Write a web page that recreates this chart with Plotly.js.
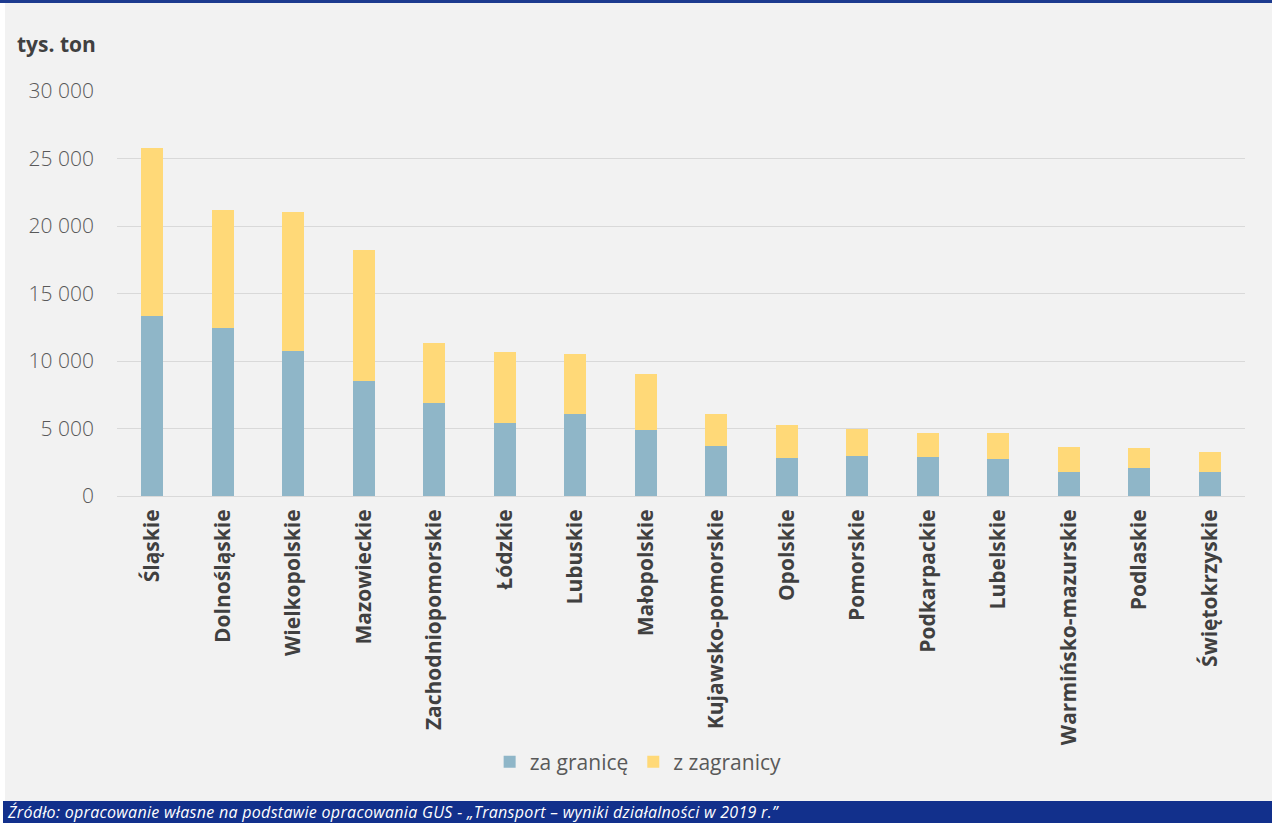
<!DOCTYPE html>
<html>
<head>
<meta charset="utf-8">
<script src="https://cdn.plot.ly/plotly-3.0.1.min.js"></script>
<style>
  html, body { margin: 0; padding: 0; background: #ffffff; }
  #wrap { position: relative; width: 1272px; height: 823px; overflow: hidden; background: #ffffff; }
  #topline { position: absolute; left: 0; top: 0; width: 1272px; height: 3px; background: #1d3b8f; }
  #panel { position: absolute; left: 5px; top: 3px; width: 1267px; height: 798px; background: #f2f2f2; }
  #chart { position: absolute; left: 0; top: 0; width: 1272px; height: 823px; }
  #footer { position: absolute; left: 3px; top: 801px; width: 1264px; height: 22px; background: #12308c;
            color: #ffffff; font-family: "Open Sans", sans-serif; font-style: italic; font-size: 16px;
            line-height: 22px; padding-left: 5px; white-space: nowrap; overflow: hidden; letter-spacing: 0.3px; }
</style>
</head>
<body>
<div id="wrap">
  <div id="topline"></div>
  <div id="panel"></div>
  <div id="chart"></div>
  <div id="footer">Źródło: opracowanie własne na podstawie opracowania GUS - „Transport – wyniki działalności w 2019 r.”</div>
</div>
<script>
const categories = ["Śląskie", "Dolnośląskie", "Wielkopolskie", "Mazowieckie", "Zachodniopomorskie", "Łódzkie",
  "Lubuskie", "Małopolskie", "Kujawsko-pomorskie", "Opolskie", "Pomorskie", "Podkarpackie", "Lubelskie",
  "Warmińsko-mazurskie", "Podlaskie", "Świętokrzyskie"];
const zaGranice = [13350, 12450, 10750, 8500, 6900, 5400, 6050, 4900, 3700, 2800, 3000, 2900, 2750, 1800, 2100, 1800];
const zZagranicy = [12450, 8750, 10300, 9750, 4450, 5300, 4500, 4150, 2350, 2450, 1950, 1800, 1900, 1850, 1450, 1450];
const seriesNames = ["za granicę", "z zagranicy"];
const yTicks = [0, 5000, 10000, 15000, 20000, 25000, 30000];

const traces = [
  { type: "bar", name: seriesNames[0], x: categories, y: zaGranice, marker: { color: "#8fb6c8" }, hoverinfo: "x+y+name" },
  { type: "bar", name: seriesNames[1], x: categories, y: zZagranicy, marker: { color: "#ffd978" }, hoverinfo: "x+y+name" }
];

const layout = {
  width: 1272, height: 823,
  paper_bgcolor: "rgba(0,0,0,0)", plot_bgcolor: "rgba(0,0,0,0)",
  margin: { l: 117, r: 27, t: 91, b: 327 },
  barmode: "stack", bargap: 0.69,
  separators: ", ",
  font: { family: "Open Sans, sans-serif", color: "#595959" },
  xaxis: {
    type: "category", tickangle: -90, showgrid: false, zeroline: false,
    showline: true, linecolor: "#d9d9d9", linewidth: 1, ticks: "", ticklabelstandoff: 4,
    tickfont: { family: "Open Sans, sans-serif", size: 21, color: "#404040", weight: "bold" }
  },
  yaxis: {
    range: [0, 30000], tickvals: yTicks, tickformat: ",d", showline: false, zeroline: false,
    gridcolor: "#d9d9d9", gridwidth: 1, ticks: "", ticklabelstandoff: 22,
    tickfont: { family: "Open Sans, sans-serif", size: 21, color: "#595959", weight: 300 }
  },
  legend: {
    orientation: "h", x: 0.462, xanchor: "center", y: -0.657, yanchor: "middle",
    font: { family: "Open Sans, sans-serif", size: 21, color: "#595959" },
    itemwidth: 30, traceorder: "normal", bgcolor: "rgba(0,0,0,0)"
  },
  annotations: [{
    text: "<b>tys. ton</b>", xref: "paper", yref: "paper", x: -0.09, y: 1.117,
    xanchor: "left", yanchor: "middle", showarrow: false,
    font: { family: "Open Sans, sans-serif", size: 21, color: "#404040" }
  }],
  showlegend: true
};

Plotly.newPlot("chart", traces, layout, { displayModeBar: false, staticPlot: true });
</script>
</body>
</html>
